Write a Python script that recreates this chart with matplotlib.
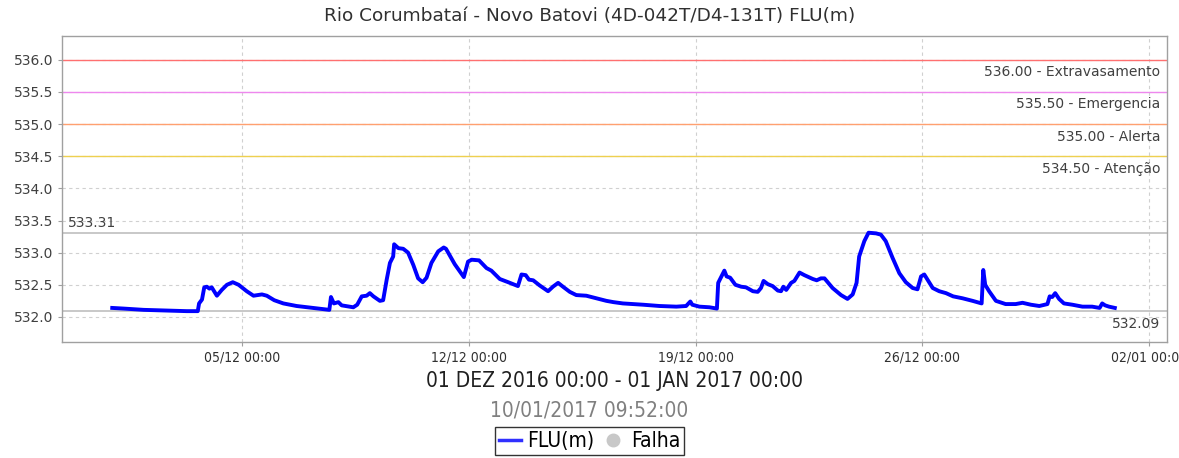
import numpy as np
import pandas as pd
import matplotlib.pyplot as plt
import matplotlib.dates as mdates
from matplotlib.lines import Line2D
from matplotlib.transforms import blended_transform_factory

# Série FLU(m): dias decorridos desde 01/12/2016 00:00 e nível (m)
dias = [0.00, 0.35, 0.97, 1.69, 2.30, 2.64, 2.68, 2.77, 2.84, 2.92, 3.00, 3.07,
        3.23, 3.38, 3.54, 3.72, 3.90, 4.15, 4.36, 4.62, 4.77, 5.00, 5.28, 5.69,
        6.21, 6.70, 6.75, 6.84, 6.98, 7.08, 7.44, 7.56, 7.70, 7.85, 7.95, 8.06,
        8.26, 8.36, 8.47, 8.57, 8.67, 8.70, 8.83, 8.98, 9.13, 9.29, 9.44, 9.58,
        9.70, 9.85, 10.06, 10.23, 10.30, 10.57, 10.85, 10.98, 11.09, 11.32, 11.55, 11.70,
        11.96, 12.22, 12.52, 12.63, 12.76, 12.86, 12.99, 13.19, 13.45, 13.60, 13.76, 13.91,
        14.12, 14.32, 14.63, 14.94, 15.25, 15.47, 15.76, 16.38, 16.89, 17.41, 17.71, 17.84,
        17.90, 18.12, 18.43, 18.66, 18.70, 18.77, 18.89, 18.96, 19.07, 19.23, 19.41, 19.56,
        19.77, 19.92, 20.02, 20.10, 20.23, 20.38, 20.54, 20.64, 20.71, 20.80, 20.95, 21.05,
        21.21, 21.36, 21.62, 21.74, 21.87, 21.98, 22.23, 22.49, 22.69, 22.85, 22.97, 23.05,
        23.21, 23.34, 23.57, 23.72, 23.87, 24.08, 24.29, 24.49, 24.70, 24.85, 24.96, 25.06,
        25.16, 25.32, 25.52, 25.73, 25.95, 26.24, 26.55, 26.83, 26.88, 26.94, 27.06, 27.27,
        27.57, 27.88, 28.09, 28.35, 28.61, 28.86, 28.93, 29.01, 29.10, 29.22, 29.37, 29.63,
        29.94, 30.24, 30.47, 30.55, 30.64, 30.76, 30.94]
nivel = [532.14, 532.13, 532.11, 532.10, 532.09, 532.09, 532.21, 532.27, 532.46, 532.47, 532.44, 532.46,
         532.33, 532.42, 532.50, 532.54, 532.50, 532.40, 532.33, 532.35, 532.33, 532.26, 532.21, 532.17,
         532.14, 532.11, 532.31, 532.21, 532.23, 532.18, 532.15, 532.19, 532.32, 532.33, 532.37, 532.32,
         532.25, 532.26, 532.58, 532.84, 532.94, 533.13, 533.07, 533.06, 533.00, 532.81, 532.60, 532.54,
         532.61, 532.84, 533.02, 533.08, 533.06, 532.82, 532.62, 532.86, 532.89, 532.88, 532.76, 532.72,
         532.59, 532.54, 532.48, 532.66, 532.65, 532.58, 532.57, 532.49, 532.40, 532.47, 532.53, 532.47,
         532.39, 532.34, 532.33, 532.29, 532.25, 532.23, 532.21, 532.19, 532.17, 532.16, 532.17, 532.24,
         532.19, 532.16, 532.15, 532.13, 532.53, 532.60, 532.72, 532.63, 532.61, 532.50, 532.47, 532.46,
         532.40, 532.39, 532.45, 532.56, 532.51, 532.48, 532.41, 532.40, 532.47, 532.42, 532.53, 532.56,
         532.69, 532.65, 532.59, 532.57, 532.60, 532.60, 532.45, 532.34, 532.28, 532.35, 532.53, 532.94,
         533.18, 533.31, 533.30, 533.28, 533.18, 532.92, 532.68, 532.54, 532.45, 532.43, 532.63, 532.66,
         532.58, 532.45, 532.40, 532.37, 532.32, 532.29, 532.25, 532.21, 532.73, 532.50, 532.40, 532.25,
         532.20, 532.20, 532.22, 532.19, 532.17, 532.20, 532.32, 532.31, 532.37, 532.28, 532.21, 532.19,
         532.16, 532.16, 532.14, 532.21, 532.18, 532.16, 532.14]

# cotas de referência
cotas = [536.0, 535.5, 535.0, 534.5]
cotas_nome = ['Extravasamento', 'Emergencia', 'Alerta', 'Atenção']
cotas_cor = ['#ff7070', '#ee88ee', '#ffa070', '#eed050']

titulo = 'Rio Corumbataí - Novo Batovi (4D-042T/D4-131T) FLU(m)'
periodo = '01 DEZ 2016 00:00 - 01 JAN 2017 00:00'
gerado_em = '10/01/2017 09:52:00'

inicio = pd.Timestamp('2016-12-01 00:00')
fim = pd.Timestamp('2017-01-01 00:00')
tempo = inicio + pd.to_timedelta(dias, unit='D')

fig = plt.figure(figsize=(11.79, 4.58), dpi=100)
ax = fig.add_axes([62 / 1179, 1 - 342 / 458, (1167 - 62) / 1179, (342 - 36) / 458])

ax.grid(True, color='#d0d0d0', linestyle=(0, (3, 3)), linewidth=0.8)
ax.set_axisbelow(True)

trans = blended_transform_factory(ax.transAxes, ax.transData)
for valor, nome, cor in zip(cotas, cotas_nome, cotas_cor):
    ax.axhline(valor, color=cor, linewidth=1.0, zorder=2)
    ax.annotate(f'{valor:.2f} - {nome}', xy=(1, valor), xycoords=trans,
                xytext=(-5, -4), textcoords='offset points',
                ha='right', va='top', fontsize=10, color='#404040')

# linhas de máximo e mínimo do período
maximo = max(nivel)
minimo = min(nivel)
ax.axhline(maximo, color='#c4c4c4', linewidth=1.3, zorder=2)
ax.axhline(minimo, color='#c4c4c4', linewidth=1.3, zorder=2)
ax.annotate(f'{maximo:.2f}', xy=(0, maximo), xycoords=trans,
            xytext=(4, 2), textcoords='offset points',
            ha='left', va='bottom', fontsize=10, color='#404040')
ax.annotate(f'{minimo:.2f}', xy=(1, minimo), xycoords=trans,
            xytext=(-5, -4), textcoords='offset points',
            ha='right', va='top', fontsize=10, color='#404040')

ax.plot(tempo, nivel, color='#0000ff', linewidth=2.8, zorder=3)

margem = (fim - inicio) * 0.05
ax.set_xlim(inicio - margem, fim + margem)
ax.set_ylim(531.61, 536.37)
ax.set_yticks(np.arange(532.0, 536.01, 0.5))
ax.yaxis.set_major_formatter(plt.FormatStrFormatter('%.1f'))
ax.xaxis.set_major_locator(mdates.WeekdayLocator(byweekday=mdates.MO))
ax.xaxis.set_major_formatter(mdates.DateFormatter('%d/%m %H:%M'))

for lado in ax.spines.values():
    lado.set_color('#a0a0a0')
    lado.set_linewidth(1.0)
ax.tick_params(axis='both', colors='#a0a0a0', length=3, width=0.8)
ax.tick_params(axis='y', labelsize=10, labelcolor='#404040', pad=3)
ax.tick_params(axis='x', labelsize=10, labelcolor='#303030', pad=3)
for rotulo in ax.get_xticklabels():
    rotulo.set_fontstretch('condensed')

fig.text(0.5, 1 - 16 / 458, titulo, ha='center', va='center', fontsize=13.3, color='#303030')
fig.text(62 / 1179 + (1167 - 62) / 1179 / 2, 1 - 381 / 458, periodo, ha='center', va='center',
         fontsize=15, color='#202020', fontstretch='condensed')
fig.text(0.5, 1 - 411 / 458, gerado_em, ha='center', va='center',
         fontsize=15, color='#808080', fontstretch='condensed')

itens = [Line2D([], [], color='#3030ff', linewidth=2.5),
         Line2D([], [], color='#c8c8c8', marker='o', linestyle='none', markersize=9)]
leg = fig.legend(itens, ['FLU(m)', 'Falha'], loc='center', bbox_to_anchor=(0.5, 1 - 441 / 458),
                 ncol=2, frameon=True, fancybox=False, edgecolor='#000000', fontsize=15,
                 handlelength=1.05, handletextpad=0.3, columnspacing=0.4, borderpad=0.2,
                 borderaxespad=0)
leg.get_frame().set_linewidth(1.0)
for t in leg.get_texts():
    t.set_fontstretch('condensed')

fig.savefig('out.png', dpi=100)
